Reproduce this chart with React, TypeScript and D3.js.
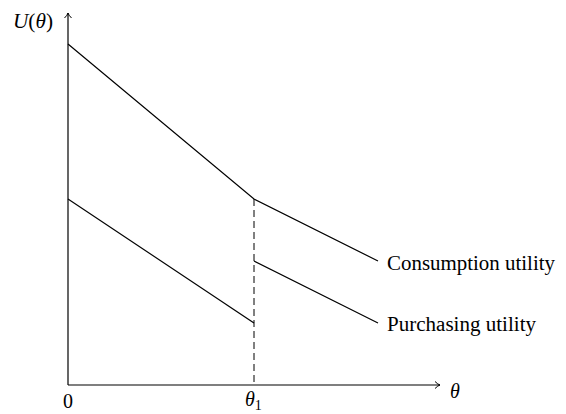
import React from 'react';
import { scaleLinear, line } from 'd3';

// theta values (x) and utility levels (y)
const theta1 = 6;
const thetaEnd = 10;
const consumption = [
  { t: 0, u: 11 },
  { t: 6, u: 6 },
  { t: 10, u: 4 },
];
const purchasingLow = [
  { t: 0, u: 6 },
  { t: 6, u: 2 },
];
const purchasingHigh = [
  { t: 6, u: 4 },
  { t: 10, u: 2 },
];
const labels = ['Consumption utility', 'Purchasing utility'];

const W = 566, H = 414;
const x = scaleLinear().domain([0, 12]).range([68, 440]);
const y = scaleLinear().domain([0, 12]).range([385, 13]);
const path = line<{ t: number; u: number }>().x(d => x(d.t)).y(d => y(d.u));

const font = '"Liberation Serif", "Times New Roman", serif';

export default function App() {
  const x0 = x(0), y0 = y(0);
  const xMax = x(12), yMax = y(12);
  return (
    <svg width={W} height={H} style={{ position: 'absolute', left: 0, top: 0, background: '#fff' }}>
      <g fill="none" stroke="#000" strokeWidth={1.2}>
        {/* axes */}
        <line x1={x0} y1={y0} x2={xMax} y2={y0} />
        <line x1={x0} y1={y0} x2={x0} y2={yMax} />
        <path d={`M${xMax - 5},${y0 - 3.5} Q${xMax - 2},${y0 - 0.5} ${xMax},${y0} Q${xMax - 2},${y0 + 0.5} ${xMax - 5},${y0 + 3.5}`} strokeWidth={1} />
        <path d={`M${x0 - 3.5},${yMax + 5} Q${x0 - 0.5},${yMax + 2} ${x0},${yMax} Q${x0 + 0.5},${yMax + 2} ${x0 + 3.5},${yMax + 5}`} strokeWidth={1} />
        {/* curves */}
        <path d={path(consumption) ?? ''} />
        <path d={path(purchasingLow) ?? ''} />
        <path d={path(purchasingHigh) ?? ''} />
        {/* dashed guide at theta1 */}
        <line x1={x(theta1)} y1={y(consumption[1].u)} x2={x(theta1)} y2={y0} strokeDasharray="7,4" strokeWidth={1} />
      </g>
      <g fontFamily={font} fontSize={20} fill="#000">
        <text x={x0} y={y0 + 23} textAnchor="middle">0</text>
        <text x={x(theta1) - 9} y={y0 + 21} fontStyle="italic">θ<tspan fontStyle="normal" fontSize={14} dy={4}>1</tspan></text>
        <text x={xMax + 10} y={y0 + 13} fontStyle="italic">θ</text>
        <text x={13} y={yMax + 15} textLength={40} lengthAdjust="spacingAndGlyphs"><tspan fontStyle="italic">U</tspan>(<tspan fontStyle="italic">θ</tspan>)</text>
        <text x={x(thetaEnd) + 9} y={y(consumption[2].u) + 9} textLength={168} lengthAdjust="spacingAndGlyphs">{labels[0]}</text>
        <text x={x(thetaEnd) + 9} y={y(purchasingHigh[1].u) + 8} textLength={149} lengthAdjust="spacingAndGlyphs">{labels[1]}</text>
      </g>
    </svg>
  );
}
